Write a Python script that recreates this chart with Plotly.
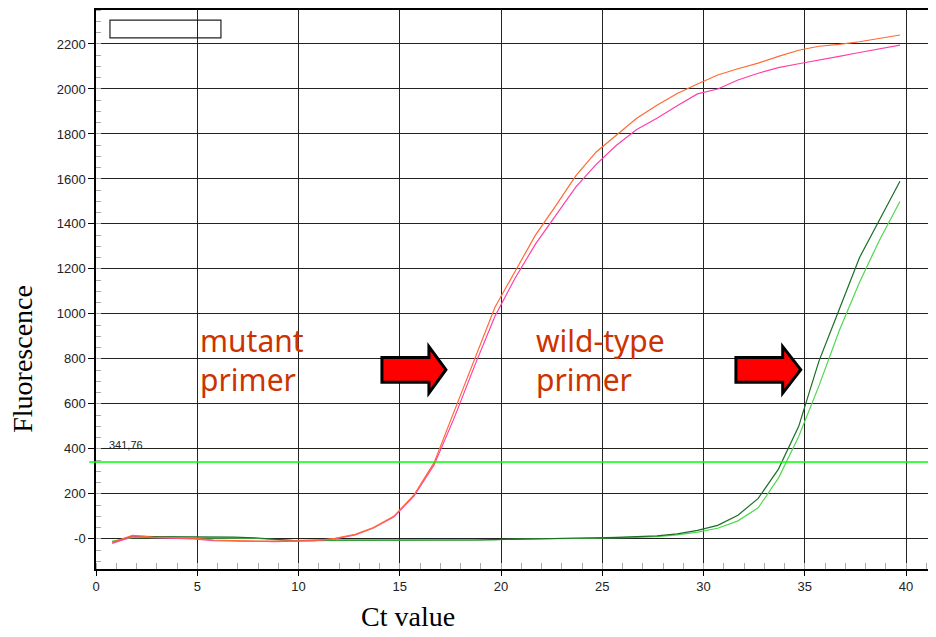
import plotly.graph_objects as go

# Cicli (valore Ct)
ct = [0.8, 1.8, 2.8, 3.8, 4.8, 5.8, 6.8, 7.8, 8.8, 9.8,
      10.8, 11.8, 12.8, 13.7, 14.7, 15.7, 16.7, 17.7, 18.7, 19.7,
      20.7, 21.7, 22.7, 23.7, 24.7, 25.7, 26.7, 27.7, 28.7, 29.7,
      30.7, 31.7, 32.7, 33.7, 34.7, 35.7, 36.7, 37.7, 38.7, 39.7]

# Curve primer mutante
mut_orange = [-15, 15, 8, 5, 3, -5, -8, -10, -10, -10,
              -8, 2, 20, 50, 100, 195, 340, 570, 800, 1030,
              1190, 1350, 1480, 1615, 1720, 1795, 1870, 1928, 1980, 2022,
              2062, 2090, 2115, 2145, 2172, 2190, 2198, 2210, 2225, 2240]
mut_pink = [-20, 10, 5, 3, 0, -8, -10, -12, -12, -10,
            -8, 0, 18, 48, 97, 190, 330, 540, 770, 990,
            1160, 1310, 1440, 1565, 1665, 1750, 1820, 1870, 1925, 1978,
            2000, 2040, 2070, 2095, 2112, 2130, 2145, 2162, 2178, 2195]

# Curve primer wild-type
wt_dark = [-15, 12, 10, 10, 8, 8, 8, 5, -2, -8,
           -5, -5, -8, -8, -8, -5, -5, -5, -5, -3,
           -2, 0, 0, 3, 5, 7, 10, 13, 22, 38,
           60, 105, 180, 310, 500, 790, 1020, 1250, 1420, 1590]
wt_light = [-10, 5, 5, 5, 5, 5, 5, 3, -3, -8,
            -8, -8, -8, -8, -8, -8, -5, -5, -5, -3,
            -2, 0, 0, 2, 3, 5, 7, 10, 18, 30,
            47, 80, 138, 270, 455, 680, 925, 1140, 1330, 1500]

threshold = 341.76
x_ticks = [0, 5, 10, 15, 20, 25, 30, 35, 40]
y_ticks = [0, 200, 400, 600, 800, 1000, 1200, 1400, 1600, 1800, 2000, 2200]
y_ticktext = ["-0", "200", "400", "600", "800", "1000", "1200", "1400",
              "1600", "1800", "2000", "2200"]

fig = go.Figure()
series = [(wt_light, "#4fd84f"), (wt_dark, "#1a6e26"),
          (mut_pink, "#ff3fa8"), (mut_orange, "#ff6a33")]
for vals, col in series:
    fig.add_trace(go.Scatter(x=ct, y=vals, mode="lines",
                             line=dict(color=col, width=1.2), showlegend=False))

# Linea di soglia
fig.add_shape(type="line", xref="paper", yref="y", x0=-0.008, x1=1,
              y0=threshold, y1=threshold, line=dict(color="#00ff00", width=1.6))
fig.add_annotation(x=0.55, y=threshold, yshift=9, text="341,76", showarrow=False,
                   xanchor="left", yanchor="bottom",
                   font=dict(family="Liberation Sans", size=11, color="#222"))

# Riquadro legenda vuoto
fig.add_shape(type="rect", x0=0.69, x1=6.17, y0=2227, y1=2306,
              line=dict(color="#222", width=1.2))

# Frecce rosse
def arrow_path(x_left, x_head, x_tip):
    yb0, yb1, yh0, yh1, ytip = 696, 806, 648, 855, 752
    return (f"M {x_left},{yb0} L {x_head},{yb0} L {x_head},{yh0} L {x_tip},{ytip} "
            f"L {x_head},{yh1} L {x_head},{yb1} L {x_left},{yb1} Z")

for xl, xh, xt in [(14.12, 16.44, 17.28), (31.6, 33.91, 34.8)]:
    fig.add_shape(type="path", path=arrow_path(xl, xh, xt),
                  fillcolor="#ff0000", line=dict(color="#000", width=3))

label_font = dict(family="Noto Sans", size=30, color="#cc3300")
fig.add_annotation(x=5.05, y=795, text="mutant<br>primer", showarrow=False,
                   xanchor="left", yanchor="middle", align="left", font=label_font)
fig.add_annotation(x=21.65, y=795, text="wild-type<br>primer", showarrow=False,
                   xanchor="left", yanchor="middle", align="left", font=label_font)

# Titoli degli assi
title_font = dict(family="Liberation Serif", size=28, color="#000")
fig.add_annotation(xref="paper", yref="paper", x=-0.087, y=0.376, text="Fluorescence",
                   textangle=-90, showarrow=False, font=title_font,
                   xanchor="center", yanchor="middle")
fig.add_annotation(xref="paper", yref="paper", x=0.371, y=-0.0856, text="Ct value",
                   showarrow=False, font=title_font, xanchor="center", yanchor="middle")

tick_font = dict(family="Liberation Sans", size=13, color="#222")
fig.update_layout(
    width=928, height=629,
    margin=dict(l=88, r=0, t=0, b=68),
    paper_bgcolor="white", plot_bgcolor="white",
    xaxis=dict(range=[0, 41.48], tickvals=x_ticks, showgrid=True,
               gridcolor="#222", gridwidth=1.2, zeroline=False,
               showline=True, linecolor="#000", linewidth=1.5, mirror=True,
               ticks="outside", ticklen=5, tickcolor="#000", tickfont=tick_font,
               minor=dict(dtick=1, tick0=0, ticks="inside", ticklen=6,
                          tickcolor="#aaa", showgrid=False)),
    yaxis=dict(range=[-134, 2351], tickvals=y_ticks, ticktext=y_ticktext,
               showgrid=True, gridcolor="#222", gridwidth=1.2, zeroline=False,
               showline=True, linecolor="#000", linewidth=1.5,
               ticks="outside", ticklen=6, tickcolor="#000", tickfont=tick_font,
               minor=dict(dtick=50, tick0=0, ticks="inside", ticklen=5,
                          tickcolor="#aaa", showgrid=False)),
)

fig.write_html("out.html")
